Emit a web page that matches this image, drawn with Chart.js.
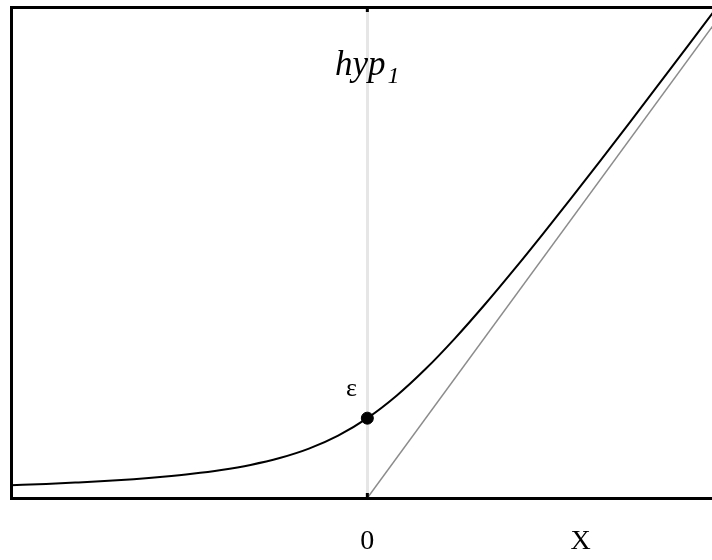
<!DOCTYPE html>
<html>
<head>
<meta charset="utf-8">
<script src="https://cdn.jsdelivr.net/npm/chart.js@4"></script>
<style>
  html, body { margin: 0; padding: 0; background: #fff; overflow: hidden; }
  #wrap { width: 712px; height: 560px; }
</style>
</head>
<body>
<div id="wrap"><canvas id="hypChart"></canvas></div>
<script>
// hyp_1 curve
const curveX = [-6.1, -5.5, -5, -4.5, -4, -3.5, -3, -2.5, -2, -1.5, -1, -0.5, 0, 0.5, 1, 1.5, 2, 2.5, 3, 3.5, 4, 4.5, 5, 5.5, 6.1];
const curveY = [0.159, 0.176, 0.193, 0.212, 0.236, 0.266, 0.303, 0.351, 0.414, 0.5, 0.618, 0.781, 1.0, 1.281, 1.618, 2.0, 2.414, 2.851, 3.303, 3.766, 4.236, 4.712, 5.193, 5.676, 6.259];

// asymptote y = x
const asymX = [0, 6.2];
const asymY = [0, 6.2];

// marked point and its label
const pointX = [0];
const pointY = [1];
const pointLabels = ["ε"];

const tickValues = [0, 3.65];
const tickLabels = ["0", "X"];

const titleMain = "hyp";
const titleSub = "1";

const serif = "'Liberation Serif', 'DejaVu Serif', serif";

const toPoints = (xs, ys) => xs.map((x, i) => ({ x: x, y: ys[i] }));

const labelPlugin = {
  id: "hypLabels",
  afterDatasetsDraw(chart) {
    const { ctx, chartArea, scales } = chart;
    const x0 = scales.x.getPixelForValue(0);
    ctx.save();

    // small frame ticks at x = 0
    ctx.strokeStyle = "#000";
    ctx.lineWidth = 3;
    ctx.beginPath();
    ctx.moveTo(x0, chartArea.top);
    ctx.lineTo(x0, chartArea.top + 5);
    ctx.moveTo(x0, chartArea.bottom);
    ctx.lineTo(x0, chartArea.bottom - 5);
    ctx.stroke();

    // title hyp_1
    ctx.fillStyle = "#000";
    ctx.textBaseline = "alphabetic";
    ctx.textAlign = "left";
    ctx.font = "italic 35px " + serif;
    const wMain = ctx.measureText(titleMain).width;
    ctx.font = "italic 24px " + serif;
    const wSub = ctx.measureText(titleSub).width;
    const startX = x0 - (wMain + wSub + 2) / 2;
    const base = chartArea.top + 68;
    ctx.font = "italic 35px " + serif;
    ctx.fillText(titleMain, startX, base);
    ctx.font = "italic 24px " + serif;
    ctx.fillText(titleSub, startX + wMain + 2, base + 8);

    // point label
    ctx.font = "26px " + serif;
    ctx.textAlign = "center";
    pointLabels.forEach((lbl, i) => {
      const px = scales.x.getPixelForValue(pointX[i]);
      const py = scales.y.getPixelForValue(pointY[i]);
      ctx.fillText(lbl, px - 16, py - 22);
    });

    ctx.restore();
  },
};

new Chart(document.getElementById("hypChart"), {
  type: "line",
  data: {
    datasets: [
      {
        data: toPoints(asymX, asymY),
        borderColor: "#8c8c8c",
        borderWidth: 1.5,
        pointRadius: 0,
        fill: false,
      },
      {
        data: toPoints(curveX, curveY),
        borderColor: "#000",
        borderWidth: 2,
        pointRadius: 0,
        cubicInterpolationMode: "monotone",
        fill: false,
      },
      {
        data: toPoints(pointX, pointY),
        borderColor: "#000",
        backgroundColor: "#000",
        pointRadius: 6,
        showLine: false,
      },
    ],
  },
  options: {
    responsive: true,
    maintainAspectRatio: false,
    animation: false,
    layout: { autoPadding: false, padding: { left: 11, top: 7, right: 0, bottom: 0 } },
    plugins: {
      legend: { display: false },
      tooltip: { enabled: false },
    },
    scales: {
      x: {
        type: "linear",
        min: -6.1,
        max: 5.9,
        afterBuildTicks: (axis) => {
          axis.ticks = tickValues.map((v) => ({ value: v }));
        },
        afterFit: (axis) => {
          axis.height = 62;
          axis.paddingLeft = 0;
          axis.paddingRight = 0;
        },
        ticks: {
          callback: (value, index) => tickLabels[index],
          color: "#000",
          font: { family: serif, size: 28 },
          padding: 27,
          maxRotation: 0,
          autoSkip: false,
        },
        grid: {
          color: (c) => (c.tick && c.tick.value === 0 ? "#e6e6e6" : "transparent"),
          lineWidth: 3,
          drawTicks: false,
        },
        border: { color: "#000", width: 3 },
      },
      xTop: {
        type: "linear",
        position: "top",
        min: -6.1,
        max: 5.9,
        ticks: { display: false },
        grid: { display: false, drawTicks: false },
        border: { color: "#000", width: 3 },
      },
      y: {
        type: "linear",
        min: 0,
        max: 6.15,
        ticks: { display: false },
        grid: { display: false, drawTicks: false },
        border: { color: "#000", width: 3 },
      },
    },
  },
  plugins: [labelPlugin],
});
</script>
</body>
</html>
